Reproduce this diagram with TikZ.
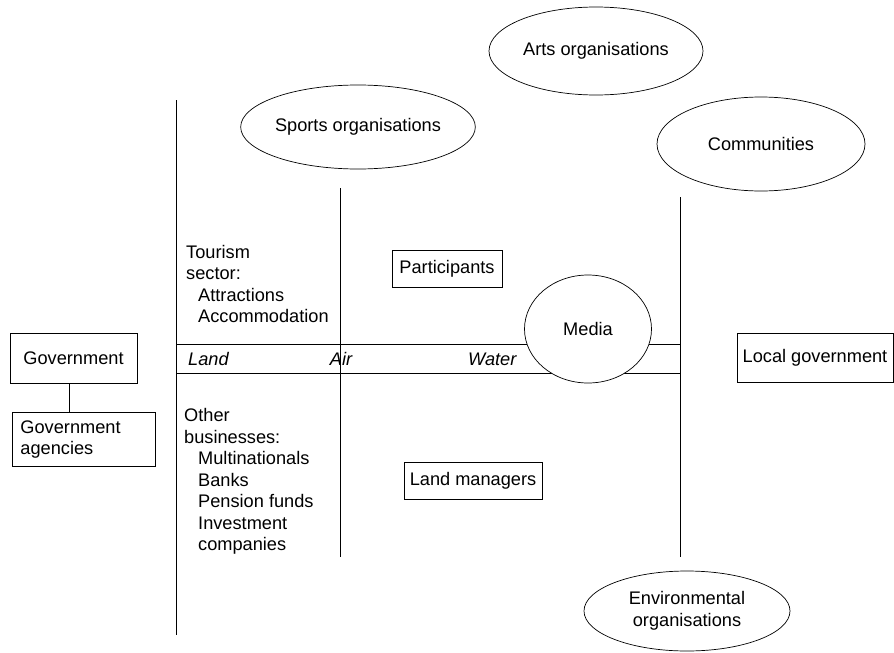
\documentclass[tikz,border=0pt]{standalone}
\usepackage{fontspec}
\setmainfont{Liberation Sans}
\usetikzlibrary{shapes.geometric}
\begin{document}
\begin{tikzpicture}[x=1pt,y=-1pt,
  every node/.style={font=\fontsize{18.2}{21.5}\selectfont},
  box/.style={draw,line width=0.9pt,inner sep=0pt},
  oval/.style={draw,ellipse,fill=white,line width=0.7pt,inner sep=0pt,align=center},
  label/.style={inner sep=0pt},
  rule/.style={line width=0.8pt}]
\useasboundingbox (0,0) rectangle (894,653);

% framework lines
\coordinate (lt) at (176,100);  \coordinate (lb) at (176,635);
\coordinate (at) at (340,188);  \coordinate (ab) at (340,557);
\coordinate (rt) at (680,197);  \coordinate (rb) at (680,557);
\coordinate (bl1) at (176,344); \coordinate (br1) at (680,344);
\coordinate (bl2) at (176,373); \coordinate (br2) at (680,373);
\draw[rule] (lt) -- (lb);
\draw[rule] (at) -- (ab);
\draw[rule] (rt) -- (rb);
\draw[rule] (bl1) -- (br1);
\draw[rule] (bl2) -- (br2);

% band labels
\node[label,anchor=base west] (land) at (188,365) {\itshape Land};
\node[label,anchor=base] (air) at (341,365) {\itshape Air};
\node[label,anchor=base west] (water) at (468,365) {\itshape Water};

% sector lists
\node[label,anchor=north west,align=left] (tour) at (186,245)
  {Tourism\\sector:\\\hspace*{12pt}Attractions\\\hspace*{12pt}Accommodation};
\node[label,anchor=north west,align=left] (other) at (184,408.5)
  {Other\\businesses:\\\hspace*{14pt}Multinationals\\\hspace*{14pt}Banks\\\hspace*{14pt}Pension funds\\\hspace*{14pt}Investment\\\hspace*{14pt}companies};

% ovals
\node[oval,minimum width=214pt,minimum height=88pt] (arts) at (596,51) {Arts organisations};
\node[oval,minimum width=188pt,minimum height=84pt] (sports) at (358,127) {Sports organisations};
\node[oval,minimum width=208pt,minimum height=94pt] (comm) at (761,144) {Communities};
\node[oval,minimum width=127pt,minimum height=108pt] (media) at (588,329) {Media};
\node[oval,minimum width=206pt,minimum height=80pt] (env) at (687,611) {Environmental\\organisations};

% boxes
\node[box,minimum width=127pt,minimum height=50pt] (gov) at (73.5,358) {Government};
\node[box,minimum width=135pt,minimum height=54pt,align=left,anchor=north west,
      text width=127pt,inner xsep=8pt] (agency) at (12,412) {Government\\agencies};
\node[box,minimum width=156pt,minimum height=49pt] (local) at (815,357.5) {Local government};
\node[box,minimum width=110pt,minimum height=37pt] (part) at (447,268.5) {Participants};
\node[box,minimum width=138pt,minimum height=37pt] (landm) at (473,481) {Land managers};

% link between the two government boxes
\coordinate (gx) at (69,0);
\draw[line width=0.8pt] (gov.south -| gx) -- (agency.north -| gx);
\end{tikzpicture}
\end{document}
